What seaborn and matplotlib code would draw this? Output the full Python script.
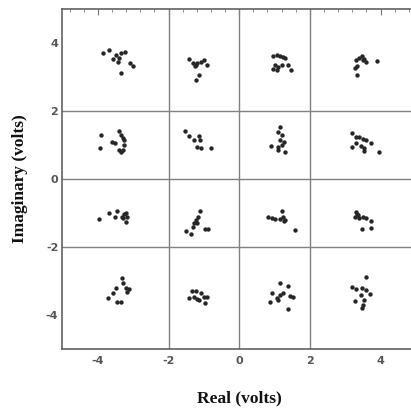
import numpy as np
import pandas as pd
import matplotlib
matplotlib.use("Agg")
import matplotlib.pyplot as plt
import seaborn as sns
from matplotlib.ticker import AutoMinorLocator

# Received 16-QAM constellation points (volts)
row1_real = [-3.85, -3.69, -3.56, -3.49, -3.42, -3.35, -3.23, -3.09, -3.01, -3.35, -3.39,
             -1.42, -1.32, -1.26, -1.18, -1.09, -0.99, -0.92, -1.13, -1.23, -1.21,
             0.96, 1.06, 1.15, 1.25, 1.29, 1.01, 0.96, 1.11, 1.20, 1.39, 1.47, 1.06,
             3.30, 3.39, 3.47, 3.53, 3.60, 3.34, 3.28, 3.91, 3.34, 3.49]
row1_imag = [3.70, 3.79, 3.52, 3.65, 3.45, 3.70, 3.73, 3.42, 3.33, 3.13, 3.55,
             3.52, 3.40, 3.32, 3.40, 3.45, 3.50, 3.35, 3.06, 2.91, 3.36,
             3.62, 3.65, 3.62, 3.60, 3.55, 3.35, 3.23, 3.30, 3.35, 3.35, 3.21, 3.21,
             3.50, 3.55, 3.62, 3.52, 3.45, 3.32, 3.26, 3.47, 3.06, 3.50]

row2_real = [-3.90, -3.60, -3.50, -3.40, -3.35, -3.30, -3.25, -3.30, -3.95, -3.40, -3.35, -3.25,
             -1.54, -1.42, -1.28, -1.13, -1.11, -1.18, -1.09, -0.80,
             1.15, 1.10, 1.20, 1.15, 1.28, 1.20, 1.10, 0.91, 1.10, 1.29,
             3.18, 3.30, 3.39, 3.49, 3.58, 3.72, 3.30, 3.20, 3.44, 3.53, 3.96, 3.53]
row2_imag = [1.30, 1.10, 1.05, 1.40, 1.30, 1.20, 1.00, 0.85, 0.90, 0.85, 0.80, 1.15,
             1.41, 1.26, 1.15, 1.26, 1.15, 0.95, 0.90, 0.90,
             1.54, 1.39, 1.29, 1.15, 1.10, 1.00, 0.95, 0.97, 0.85, 0.80,
             1.34, 1.24, 1.23, 1.17, 1.15, 1.07, 1.07, 0.95, 0.97, 0.90, 0.80, 0.83]

row3_real = [-3.96, -3.68, -3.45, -3.51, -3.32, -3.26, -3.20, -3.18, -3.21, -3.28,
             -1.11, -1.16, -1.23, -1.29, -1.18, -1.32, -1.51, -1.35, -0.97, -0.89,
             0.82, 0.93, 1.01, 1.20, 1.25, 1.29, 1.28, 1.58, 1.15,
             3.30, 3.34, 3.28, 3.39, 3.49, 3.58, 3.72, 3.72, 3.47, 3.37]
row3_imag = [-1.18, -1.01, -0.93, -1.11, -1.11, -1.04, -1.01, -1.11, -1.28, -1.16,
             -0.93, -1.11, -1.21, -1.30, -1.30, -1.40, -1.53, -1.63, -1.48, -1.48,
             -1.11, -1.16, -1.19, -0.93, -1.11, -1.21, -1.25, -1.50, -1.19,
             -0.96, -1.03, -1.11, -1.16, -1.11, -1.16, -1.23, -1.45, -1.48, -1.06]

row4_real = [-3.32, -3.29, -3.49, -3.58, -3.71, -3.20, -3.13, -3.18, -3.47, -3.34,
             -1.34, -1.23, -1.42, -1.29, -1.18, -1.09, -1.01, -0.91, -0.96, -1.13,
             1.15, 1.39, 0.93, 1.06, 0.87, 1.15, 1.25, 1.10, 1.44, 1.53, 1.39,
             3.60, 3.18, 3.31, 3.47, 3.58, 3.69, 3.44, 3.28, 3.53, 3.49, 3.47]
row4_imag = [-2.92, -3.07, -3.21, -3.34, -3.49, -3.21, -3.24, -3.33, -3.61, -3.61,
             -3.31, -3.31, -3.51, -3.46, -3.54, -3.34, -3.46, -3.48, -3.64, -3.56,
             -3.07, -3.14, -3.36, -3.51, -3.61, -3.41, -3.34, -3.56, -3.44, -3.48, -3.83,
             -2.89, -3.19, -3.24, -3.21, -3.28, -3.39, -3.41, -3.58, -3.56, -3.71, -3.80]

x_ticks = [-4, -2, 0, 2, 4]
y_ticks = [-4, -2, 0, 2, 4]

df = pd.DataFrame({
    "real": row1_real + row2_real + row3_real + row4_real,
    "imag": row1_imag + row2_imag + row3_imag + row4_imag,
})

sns.set_style("white")
fig = plt.figure(figsize=(4.11, 4.11), dpi=100)
ax = fig.add_axes([0.152, 0.151, 0.860, 0.827])

sns.scatterplot(data=df, x="real", y="imag", ax=ax, s=10, color="#262626",
                linewidth=0, zorder=3)

ax.set_xlim(-5, 5)
ax.set_ylim(-5, 5)
ax.set_xticks(x_ticks)
ax.set_yticks(y_ticks)
ax.set_xticklabels([("-" if t < 0 else "") + str(abs(t)) for t in x_ticks])
ax.set_yticklabels([("-" if t < 0 else "") + str(abs(t)) for t in y_ticks])
ax.xaxis.set_minor_locator(AutoMinorLocator(5))
ax.yaxis.set_minor_locator(AutoMinorLocator(5))
ax.tick_params(which="both", direction="in", top=True, right=False,
               colors="#777777", labelcolor="#555555")
ax.tick_params(which="major", length=4, width=0.8, labelsize=8)
ax.tick_params(axis="x", which="major", pad=5)
ax.tick_params(axis="y", which="major", pad=3)
ax.tick_params(which="minor", length=2, width=0.6)
for lab in ax.get_xticklabels() + ax.get_yticklabels():
    lab.set_fontweight("bold")
    lab.set_family("DejaVu Sans")

for v in [-2, 0, 2]:
    ax.axvline(v, color="#808080", lw=1.0, zorder=1)
    ax.axhline(v, color="#808080", lw=1.0, zorder=1)

for sp in ax.spines.values():
    sp.set_color("#555555")
    sp.set_linewidth(1.1)
ax.spines["right"].set_visible(False)

ax.set_xlabel("Real (volts)", family="Liberation Serif", fontweight="bold",
              fontsize=12.5, color="#111111", labelpad=18)
ax.set_ylabel("Imaginary (volts)", family="Liberation Serif", fontweight="bold",
              fontsize=12.5, color="#111111", labelpad=13)

fig.savefig("out.png", dpi=100, facecolor="white")
